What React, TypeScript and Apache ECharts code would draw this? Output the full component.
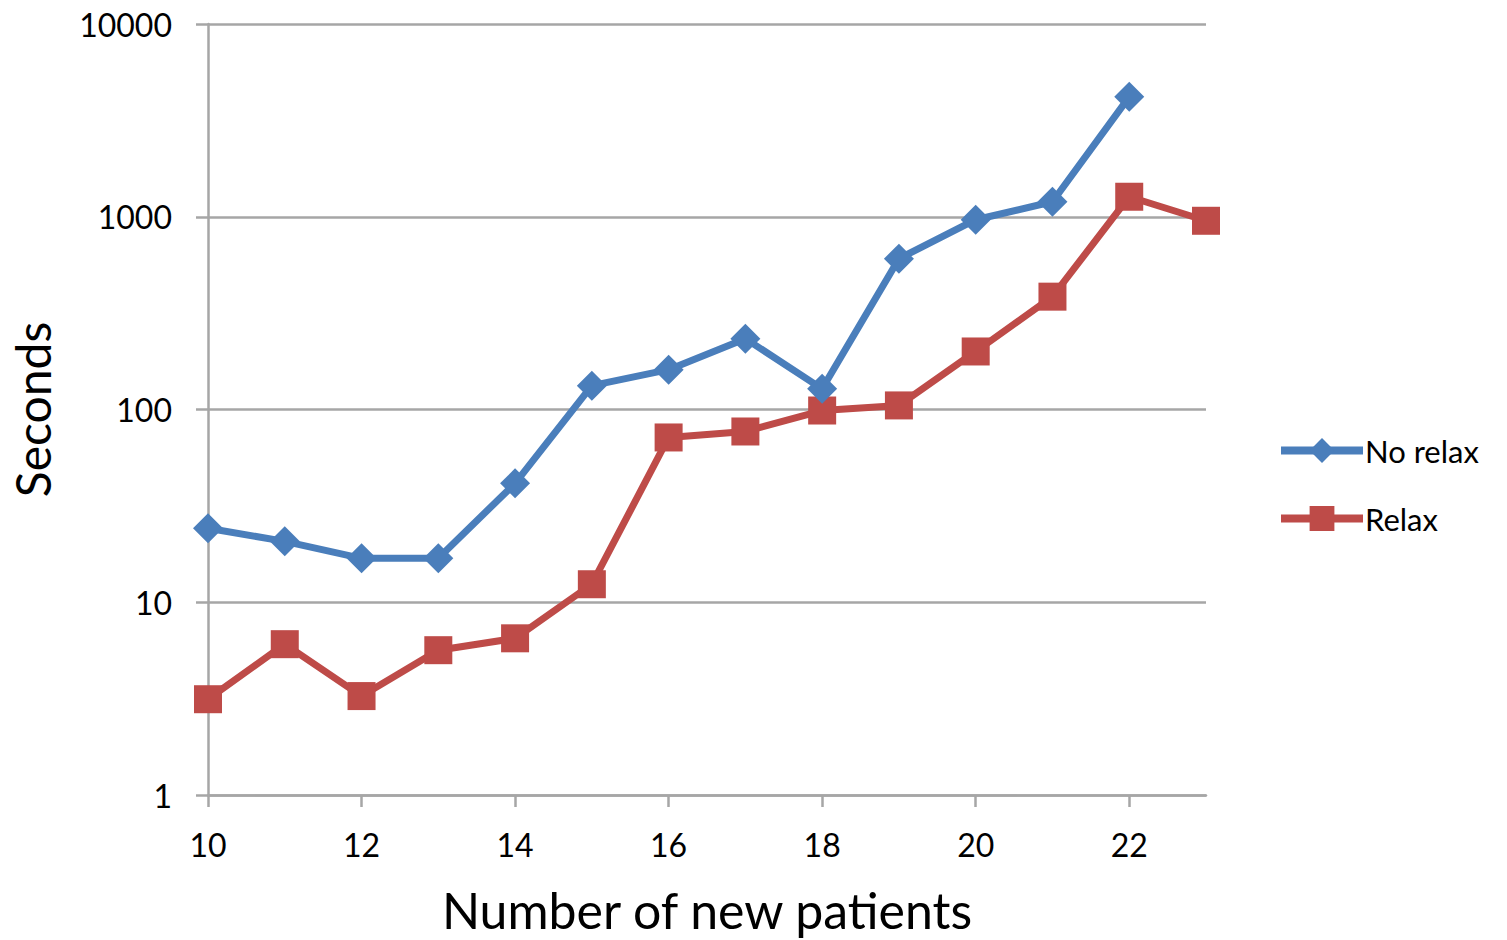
import React, { useEffect, useRef } from "react";
import * as echarts from "echarts";

const categories = ["10", "11", "12", "13", "14", "15", "16", "17", "18", "19", "20", "21", "22", "23"];
const noRelax = [24.2, 20.7, 16.9, 16.9, 41.4, 133, 161, 233, 128, 606, 965, 1196, 4190];
const relax = [3.14, 6.06, 3.26, 5.64, 6.5, 12.4, 71.6, 76.9, 98.8, 105, 200, 385, 1270, 953];
const yTickLabels = ["1", "10", "100", "1000", "10000"];

const FONT = "Lato, 'Open Sans', sans-serif";

export default function App() {
  const ref = useRef<HTMLDivElement>(null);
  useEffect(() => {
    if (!ref.current) return;
    const chart = echarts.init(ref.current, null, { renderer: "svg" });
    chart.setOption({
      animation: false,
      backgroundColor: "#ffffff",
      textStyle: { fontFamily: FONT },
      grid: { left: 208, right: 301, top: 24, bottom: 142, containLabel: false },
      legend: {
        orient: "vertical",
        left: 1272,
        top: 430,
        padding: 5,
        itemWidth: 82,
        itemHeight: 31,
        itemGap: 37,
        lineStyle: { width: 8 },
        textStyle: { fontFamily: FONT, fontSize: 31, color: "#000", padding: [0, 0, 0, -3] },
        data: ["No relax", "Relax"],
      },
      xAxis: {
        type: "category",
        data: categories,
        boundaryGap: false,
        name: "Number of new patients",
        nameLocation: "middle",
        nameGap: 90,
        nameTextStyle: { fontFamily: FONT, fontSize: 50, color: "#000" },
        axisLine: { lineStyle: { color: "#a6a6a6", width: 2.5 } },
        axisTick: { show: true, interval: 1, length: 12, lineStyle: { color: "#a6a6a6", width: 2.5 } },
        axisLabel: { interval: 1, margin: 33, fontFamily: FONT, fontSize: 32, color: "#000" },
        splitLine: { show: false },
      },
      yAxis: {
        type: "log",
        logBase: 10,
        min: 1,
        max: 10000,
        name: "Seconds",
        nameLocation: "middle",
        nameGap: 152,
        nameTextStyle: { fontFamily: FONT, fontSize: 48, color: "#000" },
        axisLine: { show: true, lineStyle: { color: "#a6a6a6", width: 2.5 } },
        axisTick: { show: true, inside: false, length: 12, lineStyle: { color: "#a6a6a6", width: 2.5 } },
        axisLabel: {
          margin: 36,
          fontFamily: FONT,
          fontSize: 32,
          color: "#000",
          formatter: (v: number) => {
            const s = String(Math.round(v));
            return yTickLabels.includes(s) ? s : "";
          },
        },
        splitLine: { show: true, lineStyle: { color: "#a6a6a6", width: 2.5 } },
      },
      series: [
        {
          name: "No relax",
          type: "line",
          data: noRelax,
          symbol: "diamond",
          symbolSize: 30,
          lineStyle: { color: "#4a7ebb", width: 7 },
          itemStyle: { color: "#4a7ebb" },
          z: 3,
        },
        {
          name: "Relax",
          type: "line",
          data: relax,
          symbol: "rect",
          symbolSize: 28,
          lineStyle: { color: "#be4b48", width: 7 },
          itemStyle: { color: "#be4b48" },
          z: 2,
        },
      ],
    });
    return () => chart.dispose();
  }, []);
  return <div ref={ref} style={{ width: 1507, height: 940, position: "absolute", left: 0, top: 0 }} />;
}
